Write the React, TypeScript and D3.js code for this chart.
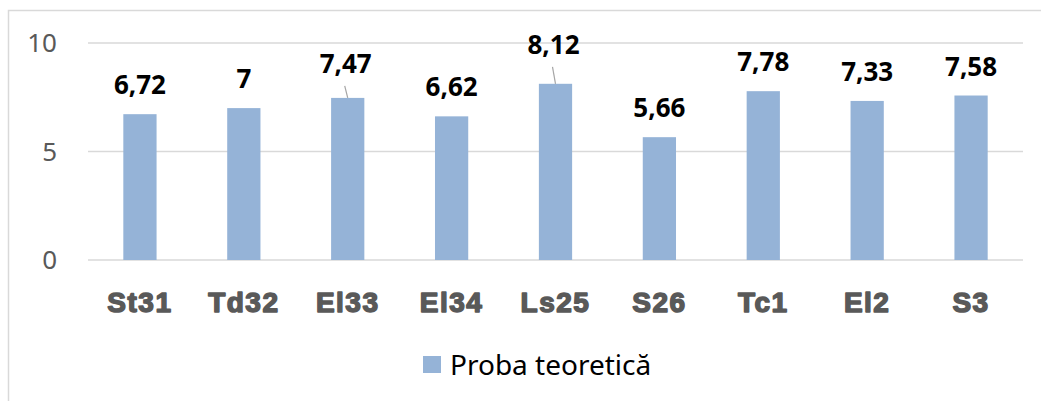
import React from "react";
import * as d3 from "d3";

const categories = ["St31", "Td32", "El33", "El34", "Ls25", "S26", "Tc1", "El2", "S3"];
const values = [6.72, 7, 7.47, 6.62, 8.12, 5.66, 7.78, 7.33, 7.58];
const valueLabels = ["6,72", "7", "7,47", "6,62", "8,12", "5,66", "7,78", "7,33", "7,58"];
const yTicks = [0, 5, 10];
const seriesName = "Proba teoretică";

// manual label placement (Excel-style moved labels get a leader line)
const labelLift = [20, 20, 25, 20, 30, 20, 20, 20, 20];
const hasLeader = [false, false, true, false, true, false, false, false, false];

const width = 1041;
const height = 401;
const margin = { top: 43, right: 18, bottom: 141, left: 88 };
const barColor = "#95b3d7";
const gridColor = "#d9d9d9";

const App = () => {
  const x = d3
    .scaleBand<string>()
    .domain(categories)
    .range([margin.left, width - margin.right])
    .padding(0);

  const y = d3
    .scaleLinear()
    .domain([0, 10])
    .range([height - margin.bottom, margin.top]);

  const barW = x.bandwidth() * 0.32;

  return (
    <div style={{ position: "absolute", left: 0, top: 0 }}>
      <svg width={width} height={height} style={{ display: "block" }}>
        <rect x={0} y={0} width={width} height={height} fill="#fff" />
        {/* chart frame, cut off at right/bottom */}
        <rect
          x={8.5}
          y={10.5}
          width={width + 20}
          height={height + 20}
          fill="none"
          stroke={gridColor}
          strokeWidth={1.5}
        />

        {yTicks.map((t) => (
          <g key={t}>
            <line
              x1={margin.left}
              x2={width - margin.right}
              y1={y(t)}
              y2={y(t)}
              stroke={gridColor}
              strokeWidth={1.5}
            />
            <text
              x={57}
              y={y(t)}
              dy="0.36em"
              textAnchor="end"
              fontFamily="'Noto Sans', sans-serif"
              fontSize={26}
              fill="#595959"
            >
              {t}
            </text>
          </g>
        ))}

        {values.map((v, i) => {
          const cx = (x(categories[i]) as number) + x.bandwidth() / 2;
          const top = y(v);
          const base = top - labelLift[i];
          return (
            <g key={categories[i]}>
              <rect
                x={cx - barW / 2}
                y={top}
                width={barW}
                height={y(0) - top}
                fill={barColor}
              />
              {hasLeader[i] && (
                <line
                  x1={cx - 3}
                  y1={base + 13}
                  x2={cx}
                  y2={top}
                  stroke="#a6a6a6"
                  strokeWidth={1.2}
                />
              )}
              <text
                x={hasLeader[i] ? cx - 2 : cx}
                y={base}
                textAnchor="middle"
                fontFamily="'Noto Sans', sans-serif"
                fontWeight="bold"
                fontSize={26}
                fill="#000"
              >
                {valueLabels[i]}
              </text>
              <text
                x={cx}
                y={312}
                textAnchor="middle"
                fontFamily="'Liberation Sans', Arial, sans-serif"
                fontWeight="bold"
                fontSize={28}
                letterSpacing={1.5}
                fill="#595959"
                stroke="#595959"
                strokeWidth={1.5}
                strokeLinejoin="round"
              >
                {categories[i]}
              </text>
            </g>
          );
        })}

        {/* legend */}
        <rect x={423} y={356} width={18} height={17} fill={barColor} />
        <text
          x={450}
          y={375}
          fontFamily="'Noto Sans', sans-serif"
          fontSize={28}
          fill="#000"
        >
          {seriesName}
        </text>
      </svg>
    </div>
  );
};

export default App;
